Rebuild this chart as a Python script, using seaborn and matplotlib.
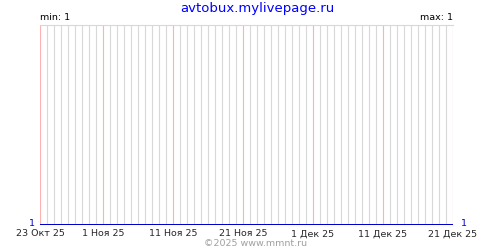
import matplotlib
matplotlib.use("Agg")
import matplotlib.pyplot as plt
import seaborn as sns
import pandas as pd
import numpy as np

title = "avtobux.mylivepage.ru"
start_date = "2025-10-23"
end_date = "2025-12-21"
dates = list(pd.date_range(start_date, end_date, freq="D"))
values = [1] * len(dates)
major_dates = ["2025-10-23", "2025-11-01", "2025-11-11", "2025-11-21",
               "2025-12-01", "2025-12-11", "2025-12-21"]
major_labels = ["23 Окт 25", "1 Ноя 25", "11 Ноя 25", "21 Ноя 25",
                "1 Дек 25", "11 Дек 25", "21 Дек 25"]
min_label = "min: 1"
max_label = "max: 1"
footer = "©2025 www.mmnt.ru"

sns.set_style("white")
plt.rcParams['font.family'] = ['DejaVu Sans']

df = pd.DataFrame({"date": dates, "value": values})
major_ts = [pd.Timestamp(d) for d in major_dates]
minor_ts = [d for d in dates if d not in major_ts]

fig = plt.figure(figsize=(5, 2.5), dpi=100)
ax = fig.add_axes([0.08, 0.1, 0.826, 0.8])

sns.lineplot(data=df, x="date", y="value", ax=ax, color="#0000cc", lw=1.44,
             zorder=3, snap=True)
ax.set_xlim(pd.Timestamp(start_date), pd.Timestamp(end_date))
ax.set_ylim(1, 2)

# daily grid lines
ax.vlines(minor_ts, 1, 2, colors="#d8d8d8", lw=0.8, zorder=0)
ax.vlines(major_ts, 1, 2, colors="#ffb0b0", lw=0.8, zorder=1)

ax.set_xticks(major_ts)
ax.set_xticklabels(major_labels, fontsize=6.8)
ax.tick_params(axis="x", length=0, pad=3)
ax.set_yticks([])
ax.set_xlabel("")
ax.set_ylabel("")
for s in ["left", "right", "bottom"]:
    ax.spines[s].set_visible(False)
ax.spines["top"].set_color("#d8d8d8")
ax.spines["top"].set_linewidth(0.8)

fig.text(0.514, 0.965, title, ha="center", va="center", color="#0000ff", fontsize=9.5)
fig.text(0.08, 0.928, min_label, ha="left", va="center", fontsize=6.8, color="black")
fig.text(0.906, 0.928, max_label, ha="right", va="center", fontsize=6.8, color="black")
fig.text(0.064, 0.105, "1", ha="center", va="center", fontsize=6.8, color="#0000cc")
fig.text(0.928, 0.105, "1", ha="center", va="center", fontsize=6.8, color="#0000cc")
fig.text(0.512, 0.028, footer, ha="center", va="center", fontsize=6.8, color="#a0a0a0")

fig.savefig("out.png", dpi=100)
